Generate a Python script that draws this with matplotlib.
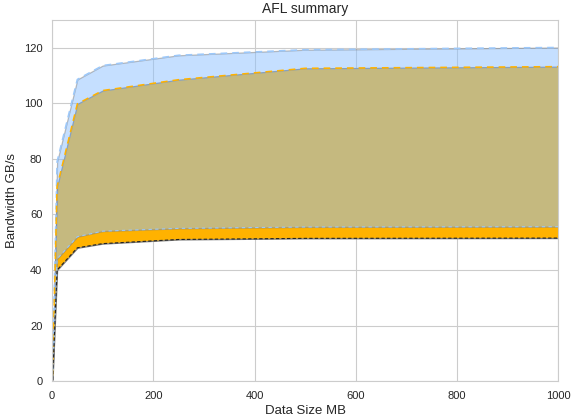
import numpy as np
import matplotlib
matplotlib.use("Agg")
import matplotlib.pyplot as plt
import seaborn as sns

sns.set_style("whitegrid")
plt.rcParams['font.family'] = ['Liberation Sans', 'DejaVu Sans']

# data sizes (MB) and bandwidth ranges (GB/s)
sizes = [1, 10, 50, 100, 250, 500, 1000]
blue_hi = [3, 79, 108.6, 113.6, 117.3, 119.3, 120.1]
blue_lo = [1.5, 44, 52, 54, 55, 55.5, 55.6]
orange_hi = [2, 70, 99.8, 104.6, 108.5, 112.6, 113.2]
orange_lo = [0.5, 40, 48, 49.5, 51, 51.4, 51.5]

orange = '#ffb200'
blue = '#8dc1ff'

fig, ax = plt.subplots(figsize=(5.72, 4.17), dpi=100)

ax.fill_between(sizes, orange_lo, orange_hi, facecolor=orange, edgecolor='gray', linewidth=0.9)
ax.fill_between(sizes, blue_lo, blue_hi, facecolor=blue, alpha=0.5, edgecolor='gray', linewidth=0.9)

ax.plot(sizes, blue_hi, color='#9cc8fa', linewidth=1.2, dashes=(4, 3))
ax.plot(sizes, orange_hi, color=orange, linewidth=1.2, dashes=(4, 3))
ax.plot(sizes, blue_lo, color='#9cc8fa', linewidth=0.8, dashes=(3, 3))
ax.plot(sizes, orange_lo, color='#222222', linewidth=0.8, dashes=(3, 2))

ax.set_xlim(0, 1000)
ax.set_ylim(0, 130)
ax.set_yticks(np.arange(0, 121, 20))
ax.tick_params(labelsize=8)
ax.set_title("AFL summary", fontsize=10, pad=5)
ax.set_xlabel("Data Size MB", fontsize=9.5, labelpad=3)
ax.set_ylabel("Bandwidth GB/s", fontsize=9.5)

plt.subplots_adjust(left=0.091, right=0.976, top=0.952, bottom=0.086)
plt.savefig("out.png")
